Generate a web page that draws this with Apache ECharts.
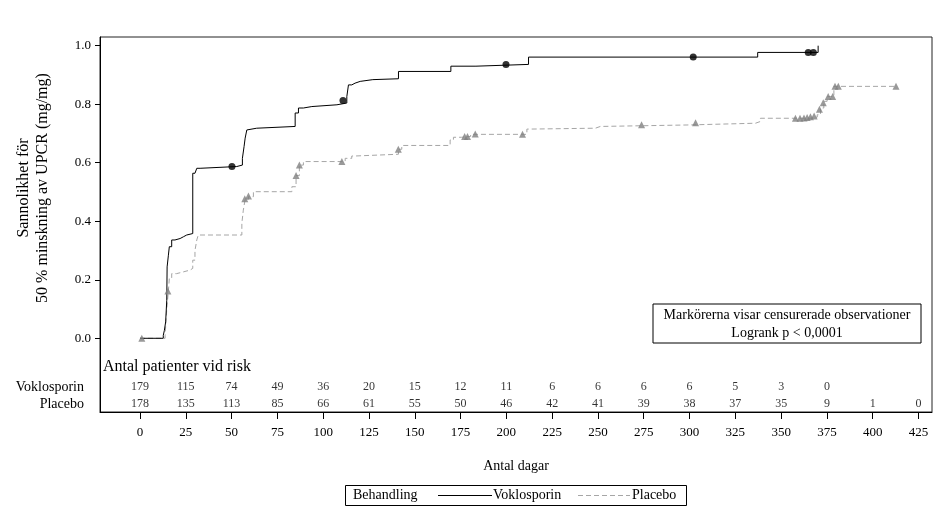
<!DOCTYPE html>
<html><head><meta charset="utf-8">
<script src="https://cdn.jsdelivr.net/npm/echarts@6/dist/echarts.min.js"></script>
<style>html,body{margin:0;padding:0;background:#fff}#c{width:945px;height:516px}</style>
</head><body><div id="c"></div>
<script>
// Kaplan-Meier step points [day, probability]
const vokSteps = [[0,0],[12.7,0.01],[13.3,0.027],[14.0,0.056],[14.6,0.13],[14.8,0.244],[15.5,0.284],[16.0,0.313],[17.3,0.336],[19.1,0.341],[21.9,0.347],[23.7,0.353],[25.5,0.358],[28.8,0.564],[30.0,0.57],[31.0,0.581],[32.8,0.587],[52.8,0.592],[55.9,0.615],[56.8,0.655],[57.4,0.684],[58.3,0.712],[59.2,0.718],[63.7,0.724],[84.7,0.77],[86.5,0.787],[89.2,0.792],[93.8,0.798],[107.5,0.804],[112.9,0.826],[113.8,0.866],[115.6,0.872],[117.4,0.878],[120.2,0.884],[127.1,0.887],[141.1,0.912],[169.7,0.93],[183.4,0.936],[212.1,0.961],[337.2,0.977],[370.2,1.0]];
const plaSteps = [[0,0],[13.7,0.01],[14.6,0.1],[15.5,0.162],[16.0,0.204],[17.3,0.221],[20.0,0.227],[23.7,0.233],[27.3,0.239],[28.8,0.267],[30.0,0.30],[31.0,0.336],[31.8,0.353],[55.6,0.393],[56.4,0.438],[57.4,0.475],[59.2,0.484],[61.9,0.501],[82.9,0.518],[85.2,0.556],[87.0,0.592],[89.2,0.604],[112.0,0.615],[115.6,0.623],[117.4,0.629],[141.1,0.646],[142.9,0.659],[169.3,0.678],[171.1,0.687],[175.5,0.69],[180.5,0.697],[211.2,0.715],[213.0,0.718],[248.6,0.724],[251.3,0.729],[298.6,0.735],[336.0,0.741],[338.7,0.752],[366.0,0.756],[369.7,0.764],[371.5,0.787],[373.3,0.81],[375.1,0.826],[378.8,0.861],[412.7,0.861]];
// Censored observations
const vokCensored = [[50.2,0.587],[110.8,0.813],[199.8,0.936],[302.0,0.961],[364.8,0.977],[367.6,0.977]];
const plaCensored = [[1,0],[15.2,0.162],[57.2,0.477],[59.2,0.486],[85.2,0.556],[87.0,0.592],[110.2,0.604],[141.0,0.646],[177.2,0.69],[178.8,0.69],[183.0,0.698],[208.8,0.697],[273.8,0.73],[303.3,0.737],[357.8,0.752],[360.3,0.752],[362.5,0.753],[364.2,0.755],[366.0,0.757],[368.0,0.76],[370.9,0.783],[373.0,0.805],[375.7,0.826],[378.1,0.826],[379.4,0.861],[381.2,0.861],[412.7,0.861]];
// Numbers at risk
const riskDays = [0,25,50,75,100,125,150,175,200,225,250,275,300,325,350,375,400,425];
const riskVok = [179,115,74,49,36,20,15,12,11,6,6,6,6,5,3,0];
const riskPla = [178,135,113,85,66,61,55,50,46,42,41,39,38,37,35,9,1,0];
const yTicks = [0,0.2,0.4,0.6,0.8,1.0];
const xTicks = riskDays;

const FONT = "'Liberation Serif','Times New Roman',serif";
const ROW_VOK = -0.1675, ROW_PLA = -0.2245;

function riskSeries(name, counts, rowY){
  return {
    name: name, type: 'scatter', symbol: 'circle', symbolSize: 1,
    itemStyle: {color: 'rgba(0,0,0,0)'}, silent: true, z: 5,
    data: counts.map((v,i)=>[riskDays[i], rowY, v]),
    label: {show: true, position: 'inside', formatter: p => String(p.value[2]),
            color: '#000', fontFamily: FONT, fontSize: 12}
  };
}

const chart = echarts.init(document.getElementById('c'), null, {renderer: 'canvas'});
chart.setOption({
  animation: false,
  backgroundColor: '#fff',
  grid: {left: 100, right: 13, top: 37, bottom: 104, show: true, borderColor: '#222', borderWidth: 1, backgroundColor: 'transparent'},
  xAxis: {
    type: 'value', min: -21.84, max: 432.36,
    name: 'Antal dagar', nameLocation: 'middle', nameGap: 47,
    nameTextStyle: {fontFamily: FONT, fontSize: 14, color: '#000'},
    axisLine: {show: true, onZero: false, lineStyle: {color: '#000'}},
    axisTick: {show: true, inside: false, length: 7, lineStyle: {color: '#000'}, customValues: xTicks},
    axisLabel: {show: true, margin: 14, fontFamily: FONT, fontSize: 13, color: '#000', customValues: xTicks},
    splitLine: {show: false}
  },
  yAxis: {
    type: 'value', min: -0.2519, max: 1.0297,
    axisLine: {show: true, onZero: false, lineStyle: {color: '#000'}},
    axisTick: {show: true, inside: false, length: 5, lineStyle: {color: '#000'}, customValues: yTicks},
    axisLabel: {show: true, margin: 9, fontFamily: FONT, fontSize: 13, color: '#000',
                customValues: yTicks, formatter: v => v.toFixed(1)},
    splitLine: {show: false}
  },
  series: [
    {name: 'Voklosporin', type: 'line', step: 'end', symbol: 'none', data: vokSteps,
     color: '#000', lineStyle: {color: '#000', width: 1}, z: 3},
    {name: 'Placebo', type: 'line', step: 'end', symbol: 'none', data: plaSteps,
     color: '#a6a6a6', lineStyle: {color: '#a6a6a6', width: 1, type: [5, 3]}, z: 2},
    {name: 'Voklosporin censur', type: 'scatter', symbol: 'circle', symbolSize: 7,
     itemStyle: {color: '#000'}, data: vokCensored, z: 4},
    {name: 'Placebo censur', type: 'scatter', symbol: 'triangle', symbolSize: 7,
     itemStyle: {color: '#7f7f7f'}, data: plaCensored, z: 4},
    riskSeries('Risk Voklosporin', riskVok, ROW_VOK),
    riskSeries('Risk Placebo', riskPla, ROW_PLA)
  ],
  graphic: [
    {type: 'text', x: 33, y: 188, rotation: Math.PI/2,
     style: {text: 'Sannolikhet för\n50 % minskning av UPCR (mg/mg)', align: 'center', verticalAlign: 'middle',
             font: '16px ' + FONT, fill: '#000', lineHeight: 19}},
    {type: 'text', x: 103, y: 367,
     style: {text: 'Antal patienter vid risk', align: 'left', verticalAlign: 'middle', font: '16px ' + FONT, fill: '#000'}},
    {type: 'text', x: 84, y: 387,
     style: {text: 'Voklosporin', align: 'right', verticalAlign: 'middle', font: '14px ' + FONT, fill: '#000'}},
    {type: 'text', x: 84, y: 404,
     style: {text: 'Placebo', align: 'right', verticalAlign: 'middle', font: '14px ' + FONT, fill: '#000'}},
    {type: 'rect', shape: {x: 653, y: 304, width: 268, height: 39},
     style: {fill: '#fff', stroke: '#000', lineWidth: 1}, z: 10},
    {type: 'text', x: 787, y: 315, z: 11,
     style: {text: 'Markörerna visar censurerade observationer', align: 'center', verticalAlign: 'middle', font: '14px ' + FONT, fill: '#000'}},
    {type: 'text', x: 787, y: 333, z: 11,
     style: {text: 'Logrank p < 0,0001', align: 'center', verticalAlign: 'middle', font: '14px ' + FONT, fill: '#000'}},
    // legend
    {type: 'rect', shape: {x: 345.5, y: 485.5, width: 341, height: 20},
     style: {fill: 'none', stroke: '#000', lineWidth: 1}},
    {type: 'text', x: 353, y: 495.5,
     style: {text: 'Behandling', align: 'left', verticalAlign: 'middle', font: '14px ' + FONT, fill: '#000'}},
    {type: 'line', shape: {x1: 438, y1: 495.5, x2: 492, y2: 495.5},
     style: {stroke: '#000', lineWidth: 1}},
    {type: 'text', x: 493, y: 495.5,
     style: {text: 'Voklosporin', align: 'left', verticalAlign: 'middle', font: '14px ' + FONT, fill: '#000'}},
    {type: 'line', shape: {x1: 578, y1: 495.5, x2: 630, y2: 495.5},
     style: {stroke: '#a6a6a6', lineWidth: 1, lineDash: [5, 3]}},
    {type: 'text', x: 632, y: 495.5,
     style: {text: 'Placebo', align: 'left', verticalAlign: 'middle', font: '14px ' + FONT, fill: '#000'}}
  ]
});
</script></body></html>
